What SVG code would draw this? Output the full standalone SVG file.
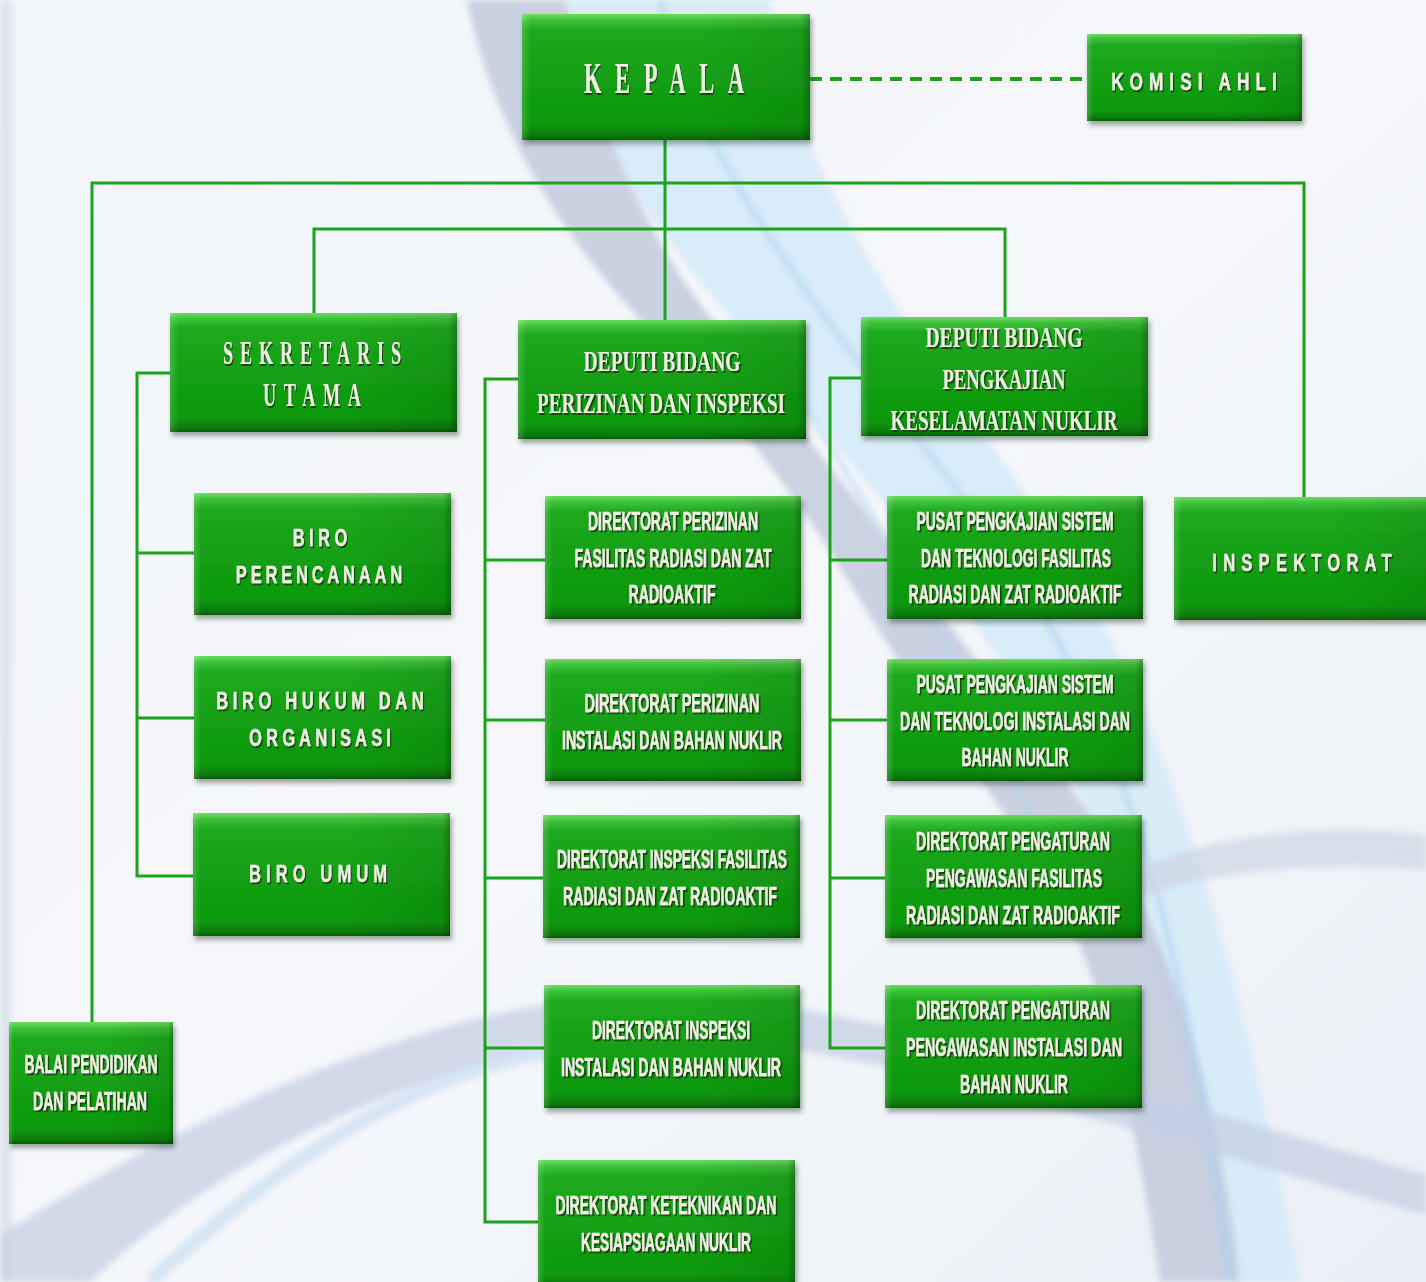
<svg xmlns="http://www.w3.org/2000/svg" width="1426" height="1282" viewBox="0 0 1426 1282">
<defs>
<linearGradient id="bg" x1="0" y1="0" x2="1" y2="1">
<stop offset="0" stop-color="#f2f5f9"/><stop offset="0.5" stop-color="#f5f7fb"/><stop offset="1" stop-color="#ebf0f6"/>
</linearGradient>
<linearGradient id="gv" x1="0" y1="0" x2="0" y2="1">
<stop offset="0" stop-color="#6fdc62"/><stop offset="0.05" stop-color="#3cc23a"/><stop offset="0.13" stop-color="#1ea91e"/>
<stop offset="0.5" stop-color="#13a013"/><stop offset="0.88" stop-color="#0d980d"/><stop offset="0.95" stop-color="#0a800a"/><stop offset="1" stop-color="#056205"/>
</linearGradient>
<linearGradient id="gh" x1="0" y1="0" x2="1" y2="0">
<stop offset="0" stop-color="#ffffff" stop-opacity="0.18"/><stop offset="0.03" stop-color="#ffffff" stop-opacity="0"/>
<stop offset="0.6" stop-color="#000000" stop-opacity="0"/><stop offset="0.97" stop-color="#000000" stop-opacity="0.08"/><stop offset="1" stop-color="#000000" stop-opacity="0.28"/>
</linearGradient>
<filter id="sh" x="-10%" y="-10%" width="125%" height="130%">
<feDropShadow dx="2" dy="4" stdDeviation="2.5" flood-color="#2a3a2a" flood-opacity="0.45"/>
</filter>
<filter id="ts" x="-5%" y="-20%" width="115%" height="150%">
<feDropShadow dx="1.6" dy="1.8" stdDeviation="0.7" flood-color="#123a10" flood-opacity="0.95"/>
</filter>
<filter id="blur" x="-5%" y="-5%" width="110%" height="110%"><feGaussianBlur stdDeviation="3"/></filter>
</defs>
<style>
.b{fill:url(#gv);filter:url(#sh)}
.e{fill:url(#gh)}
text{fill:#eef2e3;text-anchor:middle;filter:url(#ts);font-weight:bold}
.sf{font-family:"Liberation Serif","DejaVu Serif",serif}
.sn{font-family:"Liberation Sans","DejaVu Sans",sans-serif;font-size:25px;stroke:#eef2e3;stroke-width:0.4}
.sp{font-family:"Liberation Sans","DejaVu Sans",sans-serif;font-size:23px;stroke:#eef2e3;stroke-width:0.3}
.c{fill:none;stroke:#1ba41b;stroke-width:3}
.d{fill:none;stroke:#1ba41b;stroke-width:4;stroke-dasharray:12 8}
</style>
<rect width="1426" height="1282" fill="url(#bg)"/>
<g id="background" filter="url(#blur)">
<path d="M0 0 H12 V1282 H0 Z" fill="#dfe4ec"/>
<path d="M565 0 H770 C790 160 900 320 1030 500 C1130 650 1220 850 1300 1282 H1225 C1180 1000 1110 820 1000 660 C880 480 720 320 640 200 C600 130 575 60 565 0 Z" fill="#d4eaf8" opacity="0.85"/>
<path d="M467 0 C490 120 560 240 660 340 C740 420 800 500 860 600 C920 700 1000 800 1060 900 C1110 1000 1140 1150 1160 1282 L1240 1282 C1220 1120 1190 1000 1130 880 C1060 760 990 680 900 560 C830 460 740 360 690 290 C630 200 590 100 565 0 Z" fill="#bcc6d9" opacity="0.75"/>
<path d="M660 0 C700 180 860 360 980 520 C1100 680 1180 880 1230 1282" fill="none" stroke="#a6d2ee" stroke-width="5" opacity="0.7"/>
<path d="M800 400 C880 520 980 700 1060 880" fill="none" stroke="#a6d2ee" stroke-width="4" opacity="0.7"/>
<path d="M0 1282 L0 1235 C200 1110 420 1010 620 995 C800 985 1100 1080 1426 1175 L1426 1215 C1100 1120 820 1030 640 1040 C430 1050 220 1160 90 1282 Z" fill="#c3cfe2" opacity="0.7"/>
<path d="M150 1282 C280 1160 420 1070 560 1050" fill="none" stroke="#cfe2f2" stroke-width="14" opacity="0.8"/>
<path d="M1090 890 C1180 840 1300 820 1426 835 L1426 870 C1320 860 1200 870 1120 905 Z" fill="#cdd6e5" opacity="0.7"/>
</g>
<g id="connectors">
<path class="c" d="M665 140 V320"/>
<path class="c" d="M92 1022 V183 H1304 V497"/>
<path class="c" d="M314 313 V229 H1005 V317"/>
<path class="c" d="M170 373 H137 V876 H193 M137 553 H194 M137 718 H194"/>
<path class="c" d="M518 379 H485 V1222 H538 M485 560 H545 M485 720 H545 M485 878 H543 M485 1048 H544"/>
<path class="c" d="M861 378 H830 V1048 H885 M830 560 H887 M830 720 H887 M830 878 H885"/>
<path class="d" d="M810 79 H1087"/>
</g>
<g id="kepala"><rect class="b" x="522" y="14" width="288" height="126"/><rect class="e" x="522" y="14" width="288" height="126"/>
<text class="sf" transform="matrix(0.5 0 0 1 664 93)" font-size="45" textLength="320">KEPALA</text></g>
<g id="komisi-ahli"><rect class="b" x="1087" y="34" width="215" height="87"/><rect class="e" x="1087" y="34" width="215" height="87"/>
<text class="sp" transform="matrix(0.75 0 0 1 1194 90)" font-size="27" textLength="221">KOMISI AHLI</text></g>
<g id="sekretaris-utama"><rect class="b" x="170" y="313" width="287" height="119"/><rect class="e" x="170" y="313" width="287" height="119"/>
<text class="sf" transform="matrix(0.55 0 0 1 312 364)" font-size="33" textLength="324">SEKRETARIS</text>
<text class="sf" transform="matrix(0.55 0 0 1 312 406)" font-size="33" textLength="178">UTAMA</text></g>
<g id="deputi-perizinan"><rect class="b" x="518" y="320" width="288" height="119"/><rect class="e" x="518" y="320" width="288" height="119"/>
<text class="sf" x="662" y="371" font-size="30" textLength="157" lengthAdjust="spacingAndGlyphs">DEPUTI BIDANG</text>
<text class="sf" x="661" y="413" font-size="30" textLength="248" lengthAdjust="spacingAndGlyphs">PERIZINAN DAN INSPEKSI</text></g>
<g id="deputi-pengkajian"><rect class="b" x="861" y="317" width="287" height="119"/><rect class="e" x="861" y="317" width="287" height="119"/>
<text class="sf" x="1004" y="347" font-size="30" textLength="157" lengthAdjust="spacingAndGlyphs">DEPUTI BIDANG</text>
<text class="sf" x="1004" y="389" font-size="30" textLength="123" lengthAdjust="spacingAndGlyphs">PENGKAJIAN</text>
<text class="sf" x="1004" y="430" font-size="30" textLength="227" lengthAdjust="spacingAndGlyphs">KESELAMATAN NUKLIR</text></g>
<g id="biro-perencanaan"><rect class="b" x="194" y="493" width="257" height="122"/><rect class="e" x="194" y="493" width="257" height="122"/>
<text class="sp" transform="matrix(0.72 0 0 1 320 546)" textLength="76">BIRO</text>
<text class="sp" transform="matrix(0.72 0 0 1 319 583)" textLength="231">PERENCANAAN</text></g>
<g id="biro-hukum"><rect class="b" x="194" y="656" width="257" height="123"/><rect class="e" x="194" y="656" width="257" height="123"/>
<text class="sp" transform="matrix(0.72 0 0 1 320 709)" textLength="288">BIRO HUKUM DAN</text>
<text class="sp" transform="matrix(0.72 0 0 1 320 746)" textLength="197">ORGANISASI</text></g>
<g id="biro-umum"><rect class="b" x="193" y="813" width="257" height="123"/><rect class="e" x="193" y="813" width="257" height="123"/>
<text class="sp" transform="matrix(0.72 0 0 1 318 882)" textLength="192">BIRO UMUM</text></g>
<g id="dir-perizinan-frza"><rect class="b" x="545" y="496" width="256" height="123"/><rect class="e" x="545" y="496" width="256" height="123"/>
<text class="sn" x="673" y="530" textLength="170" lengthAdjust="spacingAndGlyphs">DIREKTORAT PERIZINAN</text>
<text class="sn" x="673" y="567" textLength="197" lengthAdjust="spacingAndGlyphs">FASILITAS RADIASI DAN ZAT</text>
<text class="sn" x="672" y="603" textLength="87" lengthAdjust="spacingAndGlyphs">RADIOAKTIF</text></g>
<g id="dir-perizinan-ibn"><rect class="b" x="545" y="659" width="256" height="122"/><rect class="e" x="545" y="659" width="256" height="122"/>
<text class="sn" x="672" y="712" textLength="175" lengthAdjust="spacingAndGlyphs">DIREKTORAT  PERIZINAN</text>
<text class="sn" x="672" y="749" textLength="220" lengthAdjust="spacingAndGlyphs">INSTALASI DAN BAHAN NUKLIR</text></g>
<g id="dir-inspeksi-frza"><rect class="b" x="543" y="815" width="257" height="123"/><rect class="e" x="543" y="815" width="257" height="123"/>
<text class="sn" x="672" y="868" textLength="230" lengthAdjust="spacingAndGlyphs">DIREKTORAT INSPEKSI FASILITAS</text>
<text class="sn" x="670" y="905" textLength="214" lengthAdjust="spacingAndGlyphs">RADIASI DAN ZAT RADIOAKTIF</text></g>
<g id="dir-inspeksi-ibn"><rect class="b" x="544" y="985" width="256" height="123"/><rect class="e" x="544" y="985" width="256" height="123"/>
<text class="sn" x="671" y="1039" textLength="158" lengthAdjust="spacingAndGlyphs">DIREKTORAT INSPEKSI</text>
<text class="sn" x="671" y="1076" textLength="220" lengthAdjust="spacingAndGlyphs">INSTALASI DAN BAHAN NUKLIR</text></g>
<g id="dir-keteknikan"><rect class="b" x="538" y="1160" width="257" height="130"/><rect class="e" x="538" y="1160" width="257" height="130"/>
<text class="sn" x="666" y="1214" textLength="221" lengthAdjust="spacingAndGlyphs">DIREKTORAT KETEKNIKAN DAN</text>
<text class="sn" x="666" y="1251" textLength="170" lengthAdjust="spacingAndGlyphs">KESIAPSIAGAAN NUKLIR</text></g>
<g id="pusat-frza"><rect class="b" x="887" y="496" width="256" height="123"/><rect class="e" x="887" y="496" width="256" height="123"/>
<text class="sn" x="1015" y="530" textLength="197" lengthAdjust="spacingAndGlyphs">PUSAT PENGKAJIAN SISTEM</text>
<text class="sn" x="1016" y="567" textLength="190" lengthAdjust="spacingAndGlyphs">DAN TEKNOLOGI FASILITAS</text>
<text class="sn" x="1015" y="603" textLength="213" lengthAdjust="spacingAndGlyphs">RADIASI DAN ZAT RADIOAKTIF</text></g>
<g id="pusat-ibn"><rect class="b" x="887" y="659" width="256" height="122"/><rect class="e" x="887" y="659" width="256" height="122"/>
<text class="sn" x="1015" y="693" textLength="197" lengthAdjust="spacingAndGlyphs">PUSAT PENGKAJIAN SISTEM</text>
<text class="sn" x="1015" y="730" textLength="230" lengthAdjust="spacingAndGlyphs">DAN TEKNOLOGI INSTALASI DAN</text>
<text class="sn" x="1015" y="766" textLength="107" lengthAdjust="spacingAndGlyphs">BAHAN NUKLIR</text></g>
<g id="dir-pengaturan-frza"><rect class="b" x="885" y="815" width="257" height="123"/><rect class="e" x="885" y="815" width="257" height="123"/>
<text class="sn" x="1013" y="850" textLength="194" lengthAdjust="spacingAndGlyphs">DIREKTORAT PENGATURAN</text>
<text class="sn" x="1014" y="887" textLength="176" lengthAdjust="spacingAndGlyphs">PENGAWASAN FASILITAS</text>
<text class="sn" x="1013" y="924" textLength="214" lengthAdjust="spacingAndGlyphs">RADIASI DAN ZAT RADIOAKTIF</text></g>
<g id="dir-pengaturan-ibn"><rect class="b" x="885" y="985" width="257" height="123"/><rect class="e" x="885" y="985" width="257" height="123"/>
<text class="sn" x="1013" y="1019" textLength="194" lengthAdjust="spacingAndGlyphs">DIREKTORAT PENGATURAN</text>
<text class="sn" x="1014" y="1056" textLength="216" lengthAdjust="spacingAndGlyphs">PENGAWASAN INSTALASI DAN</text>
<text class="sn" x="1014" y="1093" textLength="108" lengthAdjust="spacingAndGlyphs">BAHAN NUKLIR</text></g>
<g id="inspektorat"><rect class="b" x="1174" y="497" width="262" height="123"/><rect class="e" x="1174" y="497" width="262" height="123"/>
<text class="sp" transform="matrix(0.72 0 0 1 1302 571)" font-size="27" textLength="249">INSPEKTORAT</text></g>
<g id="balai"><rect class="b" x="9" y="1022" width="164" height="122"/><rect class="e" x="9" y="1022" width="164" height="122"/>
<text class="sn" x="91" y="1073" textLength="133" lengthAdjust="spacingAndGlyphs">BALAI PENDIDIKAN</text>
<text class="sn" x="90" y="1110" textLength="114" lengthAdjust="spacingAndGlyphs">DAN PELATIHAN</text></g>
</svg>
